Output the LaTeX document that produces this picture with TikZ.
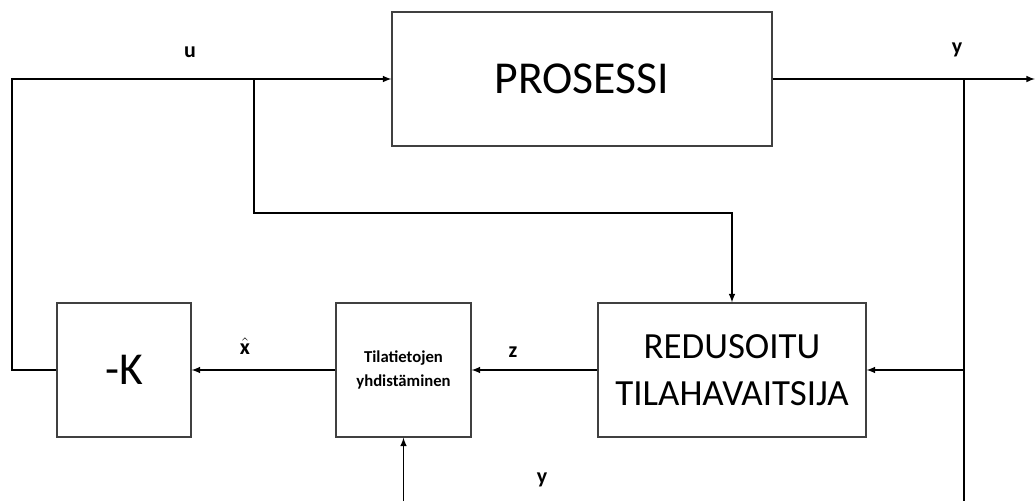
\documentclass[tikz,border=0pt]{standalone}
\usepackage{fontspec}
\setmainfont{Carlito}
\usepackage{tikz}
\usetikzlibrary{arrows,positioning,calc}

\begin{document}
\begin{tikzpicture}[
    x=0.02cm, y=-0.02cm,
    block/.style={rectangle, draw=black!75, line width=0.7pt, minimum height=2.68cm, align=center, inner sep=2pt},
    arrow/.style={->, line width=0.7pt, >=latex},
    line/.style={line width=0.7pt},
    sig/.style={font=\fontsize{12.5}{14}\selectfont\bfseries, inner sep=0pt}
]
    \useasboundingbox (0,0) rectangle (1035,501);

    % Blocks
    \node[block, minimum width=7.6cm, font=\fontsize{26}{30}\selectfont] (proc) at (582,79) {PROSESSI};
    \node[block, minimum width=2.68cm, font=\fontsize{26}{30}\selectfont] (gain) at (124,370) {-K};
    \node[block, minimum width=2.7cm, font=\fontsize{9.5}{14}\selectfont\bfseries] (comb) at (403.5,370) {Tilatietojen\\yhdistäminen};
    \node[block, minimum width=5.36cm, font=\fontsize{21}{27}\selectfont] (obs) at (732,370) {REDUSOITU\\TILAHAVAITSIJA};

    % Branch points and free ends
    \coordinate (kleft) at (12,370);
    \coordinate (ubranch) at (254,79);
    \coordinate (ucorner) at (732,213);
    \coordinate (ybranch) at (964,79);
    \coordinate (ymid) at (964,370);
    \coordinate (ybottom) at (964,501);
    \coordinate (out) at (1035,79);
    \coordinate (ycomb) at (403.5,501);

    % Signals
    \draw[arrow] (gain.west) -- (kleft) |- (proc.west);
    \draw[arrow] (ubranch) |- (ucorner) -- (obs.north);
    \draw[arrow] (proc.east) -- (out);
    \draw[line] (ybranch) -- (ybottom);
    \draw[arrow] (ymid) -- (obs.east);
    \draw[arrow] (obs.west) -- (comb.east);
    \draw[arrow] (comb.west) -- (gain.east);
    \draw[arrow] (ycomb) -- (comb.south);

    % Labels
    \node[sig] (ulabel) at (190,52) {u};
    \node[sig] (ylabel) at (957,50) {y};
    \node[sig] (xlabel) at (245,346) {$\hat{\mbox{\bfseries x}}$};
    \node[sig] (zlabel) at (513,352) {z};
    \node[sig] (yclabel) at (542,480) {y};
\end{tikzpicture}
\end{document}
